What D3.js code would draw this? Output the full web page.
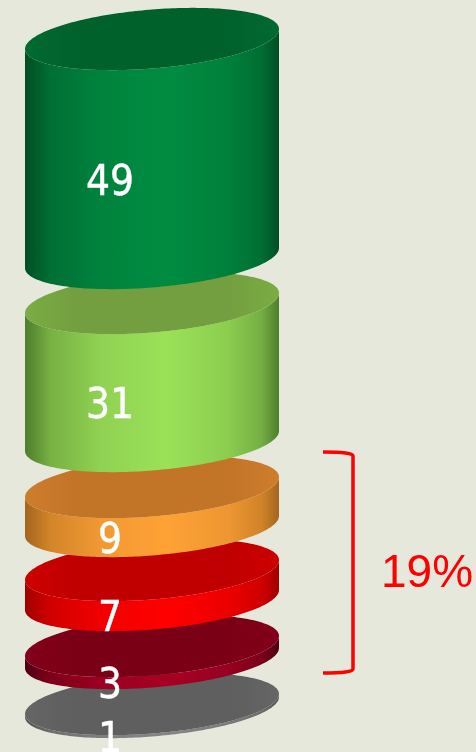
<!DOCTYPE html>
<html>
<head>
<meta charset="utf-8">
<style>
  html, body { margin: 0; padding: 0; background: #e6e8dc; overflow: hidden; }
  svg { display: block; }
</style>
<script src="https://cdn.jsdelivr.net/npm/d3@7"></script>
</head>
<body>
<div id="chart"></div>
<script>
// stack values, top to bottom
const values = [49, 31, 9, 7, 3, 1]
const capColors = ['#00622c', '#739f3f', '#c27428', '#c00000', '#7a0018', '#5e5e5e']
const sideColors = ['#008c41', '#9be158', '#ffa235', '#ff0000', '#a80024', '#858585']
const edgeColors = ['#004f23', '#4f7d2d', '#a4651f', '#a00000', '#500010', '#555555']
const bracketLabel = '19%'
const bracketRange = [2, 4] // rows covered by the bracket

const width = 476
const height = 752
const stackTop = 39
const gaps = [45, 46, 44, 46, 46]

const svg = d3.select('#chart')
  .append('svg')
  .attr('width', width)
  .attr('height', height)

// x runs across the disc, -1 to 1
const x = d3.scaleLinear().domain([-1, 1]).range([25, 279])
const thickness = d3.scaleLinear().domain([1, 49]).range([3, 219])

// tilted disc: sheared ellipse so the side walls meet it at the extremes
const shear = 10
const minor = 29.5

const rim = function (t, cy) {
  return [x(Math.cos(t)), cy - shear * Math.cos(t) + minor * Math.sin(t)]
}
const line = d3.line()
const angles = d3.range(0, 121).map(function (i) { return i / 120 * Math.PI })

const capPath = function (cy) {
  const front = angles.map(function (t) { return rim(t, cy) })
  const back = angles.map(function (t) { return rim(t + Math.PI, cy) })
  return line(front.concat(back)) + 'Z'
}
const sidePath = function (top, bottom) {
  const lower = angles.map(function (t) { return rim(t, bottom) }).reverse()
  const upper = angles.map(function (t) { return rim(t, top) })
  return line(lower.concat(upper)) + 'Z'
}

// work out where each layer sits
let cursor = stackTop
const layers = values.map(function (v, i) {
  const top = cursor
  const bottom = top + thickness(v)
  cursor = bottom + (i < gaps.length ? gaps[i] : 0)
  return { value: v, i: i, top: top, bottom: bottom }
})

const defs = svg.append('defs')

// the source picture is slightly soft
defs.append('filter')
  .attr('id', 'soft')
  .append('feGaussianBlur')
  .attr('stdDeviation', 0.45)

const addGradient = function (id, stops) {
  const grad = defs.append('linearGradient')
    .attr('id', id)
    .attr('gradientUnits', 'userSpaceOnUse')
    .attr('x1', x(-1))
    .attr('x2', x(1))
    .attr('y1', 0)
    .attr('y2', 0)
  stops.forEach(function (s) {
    grad.append('stop').attr('offset', s[0]).attr('stop-color', s[1])
  })
}

layers.forEach(function (d) {
  const edge = edgeColors[d.i]
  const side = sideColors[d.i]
  const cap = capColors[d.i]
  const sideMix = d3.interpolateRgb(edge, side)
  addGradient('side' + d.i, [
    [0, edge],
    [0.03, sideMix(0.15)],
    [0.1, sideMix(0.52)],
    [0.3, sideMix(0.85)],
    [0.56, side],
    [0.8, sideMix(0.8)],
    [0.93, sideMix(0.5)],
    [1, edge]
  ])
  const capEdge = d3.interpolateRgb(cap, side)(0.2)
  addGradient('cap' + d.i, [
    [0, capEdge],
    [0.2, cap],
    [0.8, cap],
    [1, capEdge]
  ])
})

const root = svg.append('g').attr('filter', 'url(#soft)')

// bottom layer first, upper discs hang over the lower ones
const layer = root.selectAll('g.layer')
  .data(layers.slice().reverse())
  .enter()
  .append('g')
  .attr('class', 'layer')

layer.append('path')
  .attr('d', function (d) { return sidePath(d.top, d.bottom) })
  .attr('fill', function (d) { return 'url(#side' + d.i + ')' })

layer.append('path')
  .attr('d', function (d) { return capPath(d.top) })
  .attr('fill', function (d) { return 'url(#cap' + d.i + ')' })

// labels sit on the front wall, over everything
const labelX = x(-0.33)
const frontOffset = rim(Math.acos(-0.33), 0)[1]

root.selectAll('text.value')
  .data(layers)
  .enter()
  .append('text')
  .attr('class', 'value')
  .attr('x', labelX)
  .attr('y', function (d) { return (d.top + d.bottom) / 2 + frontOffset })
  .attr('dy', '0.365em')
  .attr('text-anchor', 'middle')
  .attr('font-family', '"DejaVu Sans Condensed", "DejaVu Sans", sans-serif')
  .attr('font-stretch', 'condensed')
  .attr('font-size', 42)
  .attr('fill', '#ffffff')
  .attr('stroke', '#ffffff')
  .attr('stroke-width', 0.4)
  .text(function (d) { return d.value })

// bracket round the three red-ish layers
const bracketTop = layers[bracketRange[0]].top - 35
const bracketBottom = layers[bracketRange[1]].bottom + 15
const bx0 = 323
const bx1 = 353

root.append('path')
  .attr('d', 'M' + bx0 + ',' + bracketTop +
    'Q' + bx1 + ',' + bracketTop + ' ' + bx1 + ',' + (bracketTop + 4) +
    'L' + bx1 + ',' + (bracketBottom - 4) +
    'Q' + bx1 + ',' + bracketBottom + ' ' + bx0 + ',' + bracketBottom)
  .attr('fill', 'none')
  .attr('stroke', '#ff0000')
  .attr('stroke-width', 3.5)

root.append('text')
  .attr('x', 381)
  .attr('y', 587)
  .attr('font-family', '"Liberation Sans", Arial, sans-serif')
  .attr('font-size', 46)
  .attr('fill', '#ff0000')
  .text(bracketLabel)
</script>
</body>
</html>
